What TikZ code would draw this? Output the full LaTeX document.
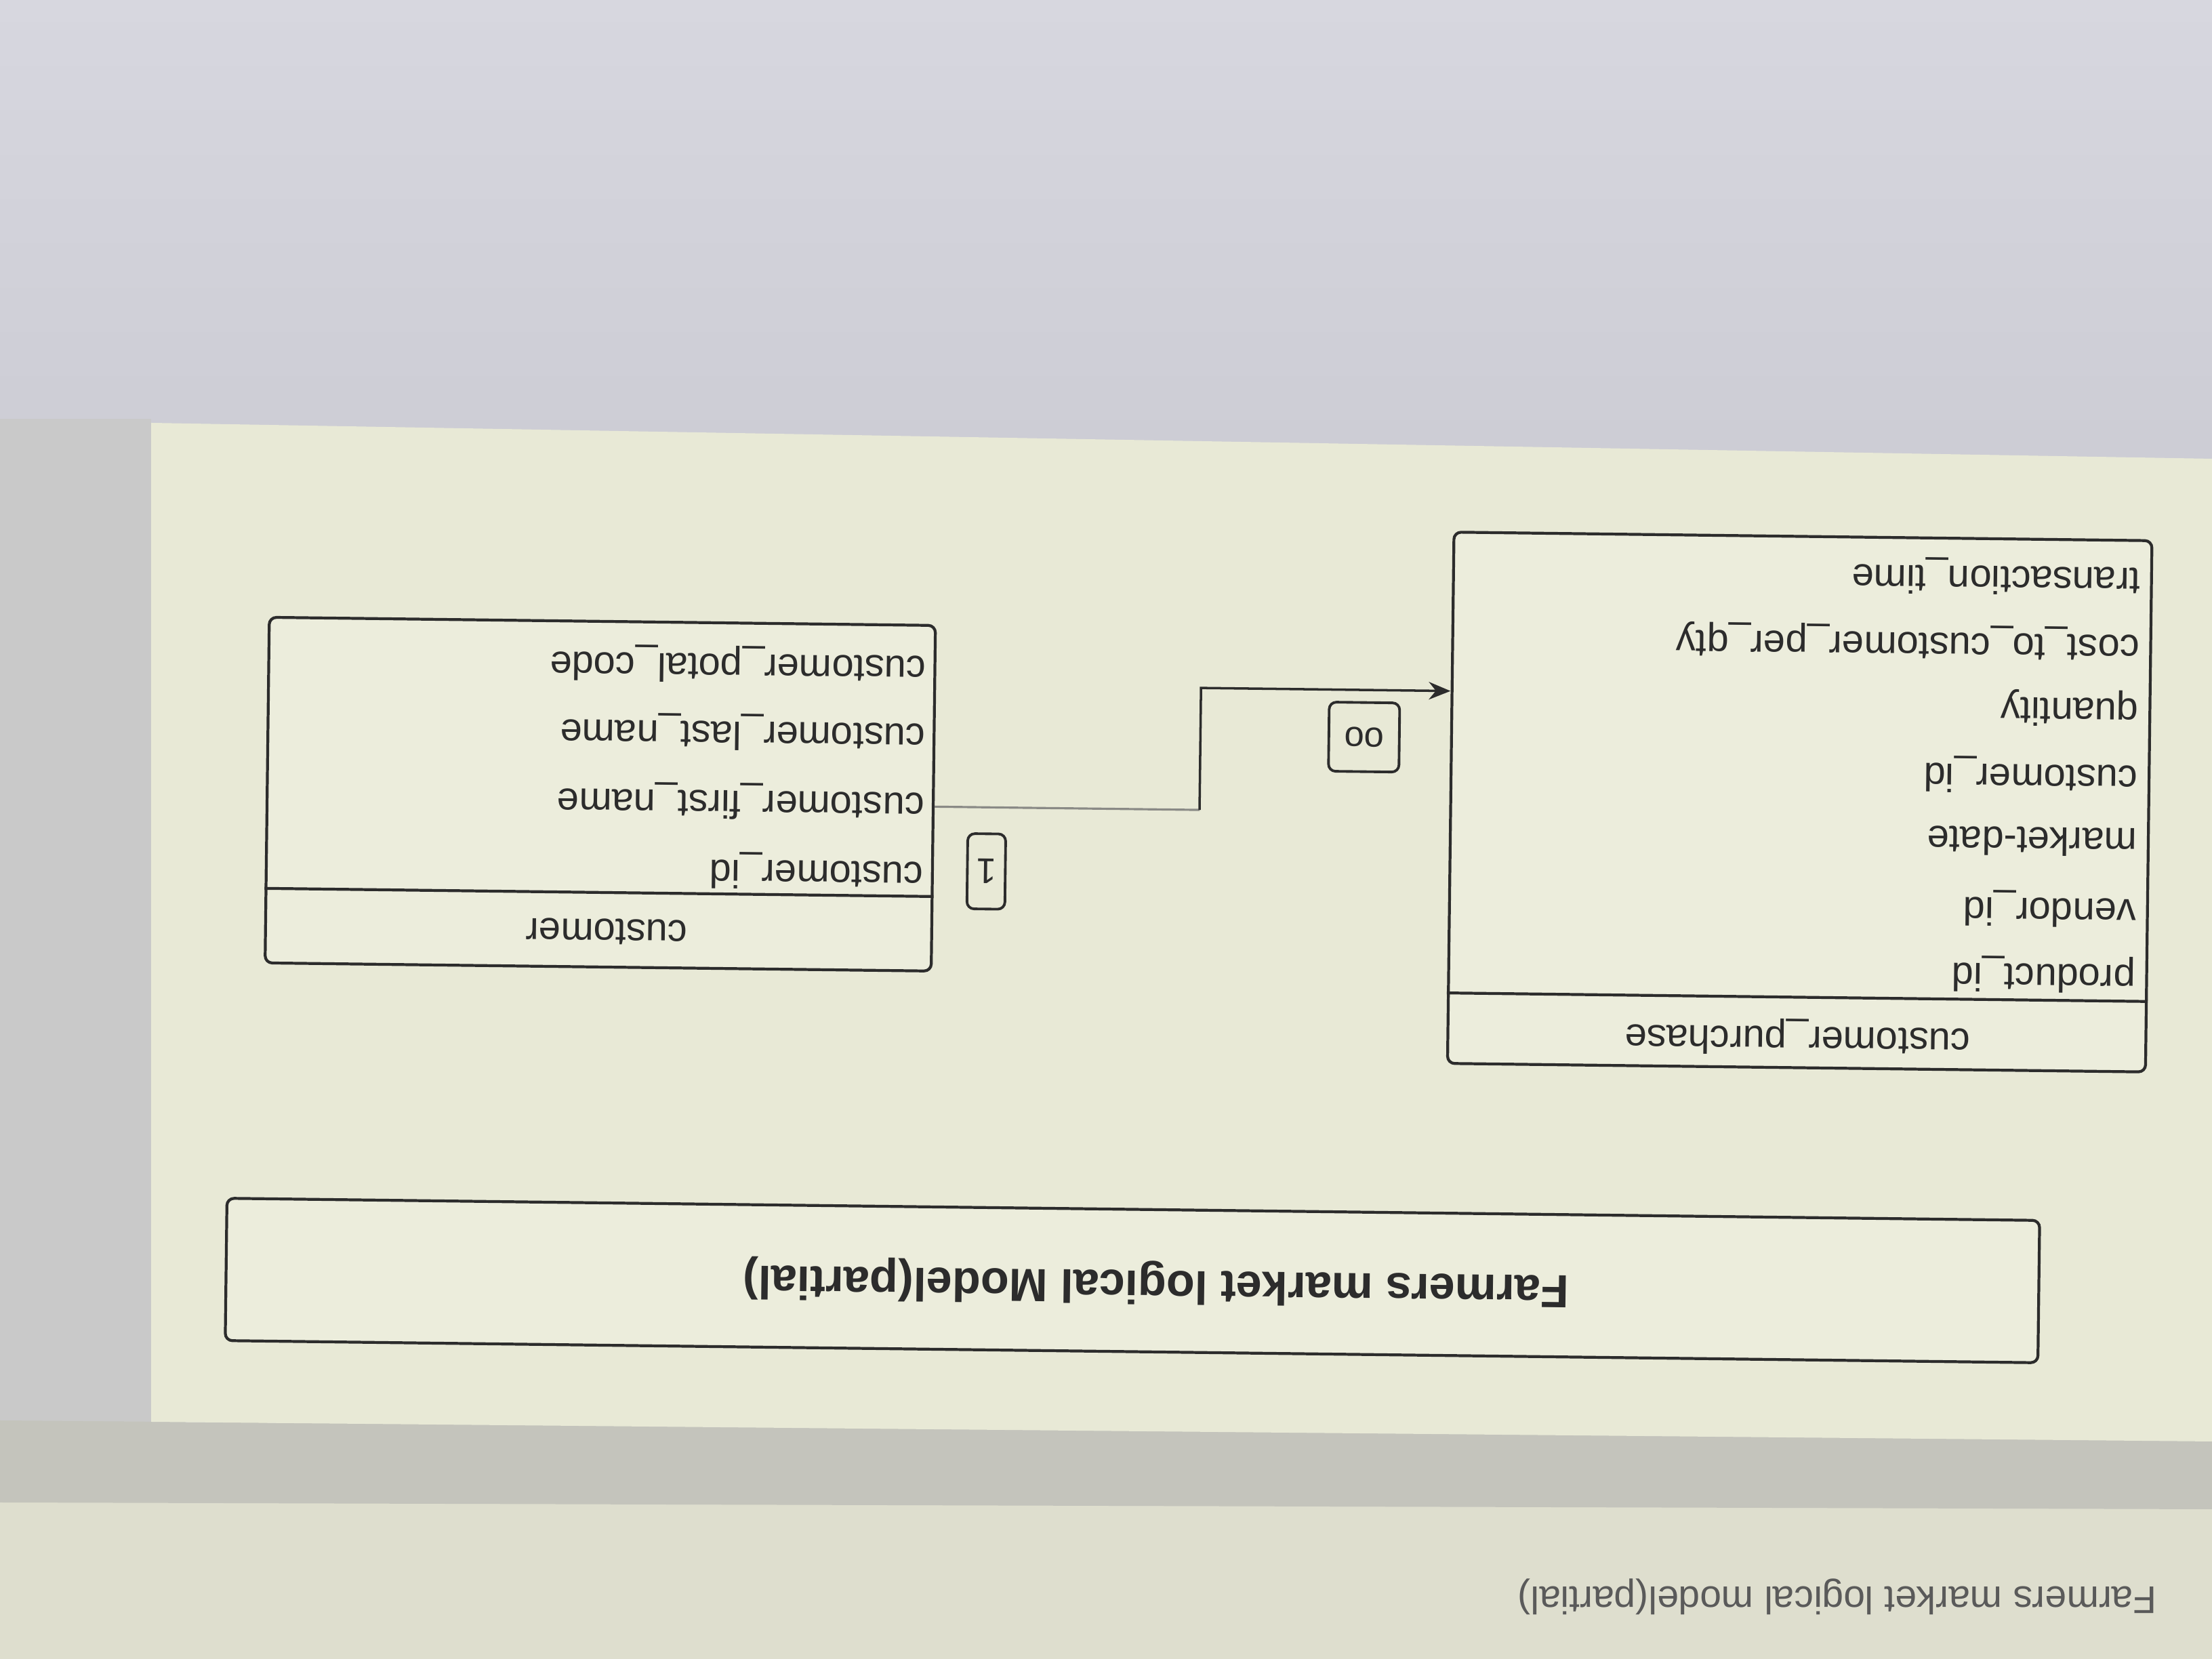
\documentclass[tikz,border=0pt]{standalone}
\usepackage{fontspec}
\setmainfont{Liberation Sans}
\usetikzlibrary{calc,arrows.meta}
\definecolor{ink}{HTML}{2C2C2C}
\definecolor{boxfill}{HTML}{ECEDDC}
\definecolor{panel}{HTML}{E8E9D6}
\definecolor{sky}{HTML}{D7D7DF}
\definecolor{skylow}{HTML}{CACAD2}
\definecolor{strip}{HTML}{C9C9C9}
\definecolor{band}{HTML}{C4C4BC}
\definecolor{floor}{HTML}{DEDECE}
\definecolor{caption}{HTML}{5A5A5A}
\definecolor{wire}{HTML}{8A8A86}
\begin{document}
\begin{tikzpicture}[x=1cm,y=1cm,
  tbl/.style={draw=ink, line width=1.2pt, rounded corners=3pt, fill=boxfill, inner sep=0pt},
  attr/.style={rotate=180, anchor=west, inner sep=0pt, text=ink,
    font=\fontsize{16.5}{18}\selectfont},
  hdr/.style={rotate=180, inner sep=0pt, text=ink, font=\fontsize{16.5}{18}\selectfont},
  mult/.style={draw=ink, line width=1.1pt, rounded corners=3pt, rotate=180,
    inner sep=0pt, text=ink, font=\fontsize{15}{16}\selectfont},
  conn/.style={draw=ink, line width=1pt},
  faint/.style={draw=wire, line width=0.9pt}]
\useasboundingbox (0,0) rectangle (32.64,24.48);

% screen surroundings
\shade[top color=sky, bottom color=skylow] (0,16) rectangle (32.64,24.48);
\fill[strip] (0,2.3) rectangle (2.23,18.3);
\fill[floor] (0,0) rectangle (32.64,2.32);
\fill[band] (0,2.31) -- (32.64,2.21) -- (32.64,3.25) -- (0,3.52) -- cycle;
\fill[panel] (2.23,3.50) -- (2.23,18.24) -- (32.64,17.71) -- (32.64,3.21) -- cycle;

\node[rotate=180, text=caption, inner sep=0pt, font=\fontsize{16.2}{18}\selectfont]
  (caption) at (27.11,0.92) {Farmers market logical model(partial)};

\begin{scope}[rotate around={-0.7:(16.3,10.5)}, transform shape]

% table: customer_purchase
\node[tbl, minimum width=10.30cm, minimum height=7.84cm] (cp) at (26.53,12.77) {};
\draw[ink, line width=1.2pt] (cp.west |- 0,9.89) -- (cp.east |- 0,9.89);
\node[hdr] (cphead) at (26.54,9.30) {customer\_purchase};
\node[attr] (cp1) at (31.52,16.13) {transaction\_time};
\node[attr] (cp2) at (31.52,15.16) {cost\_to\_customer\_per\_qty};
\node[attr] (cp3) at (31.52,14.20) {quantity};
\node[attr] (cp4) at (31.52,13.21) {customer\_id};
\node[attr] (cp5) at (31.52,12.23) {market-date};
\node[attr] (cp6) at (31.52,11.24) {vendor\_id};
\node[attr] (cp7) at (31.52,10.27) {product\_id};

% table: customer
\node[tbl, minimum width=9.83cm, minimum height=5.10cm] (cust) at (8.83,12.67) {};
\draw[ink, line width=1.2pt] (cust.west |- 0,11.22) -- (cust.east |- 0,11.22);
\node[hdr] (custhead) at (8.95,10.64) {customer};
\node[attr] (cu1) at (13.62,14.61) {customer\_potal\_code};
\node[attr] (cu2) at (13.62,13.61) {customer\_last\_name};
\node[attr] (cu3) at (13.62,12.59) {customer\_first\_name};
\node[attr] (cu4) at (13.62,11.57) {customer\_id};

% relationship between the two tables
\draw[faint] ($(cust.north east)!0.524!(cust.south east)$) -- ++(3.91,0);
\draw[conn, -{Stealth[length=0.32cm,width=0.26cm]}]
  ($(cust.north east)!0.524!(cust.south east)$) ++(3.91,0)
  |- ($(cp.north west)!0.30!(cp.south west)$);
\node[mult, minimum width=0.56cm, minimum height=1.11cm] (one) at (14.54,11.60) {1};
\node[mult, minimum width=1.04cm, minimum height=1.02cm] (many) at (20.09,13.65) {oo};

% title banner
\node[tbl, minimum width=26.75cm, minimum height=2.10cm] (title) at (16.77,5.59) {};
\node[rotate=180, inner sep=0pt, text=ink, font=\bfseries\fontsize{19.5}{22}\selectfont]
  (titletext) at (17.12,5.56) {Farmers market logical Model(partial)};
\end{scope}
\end{tikzpicture}
\end{document}
